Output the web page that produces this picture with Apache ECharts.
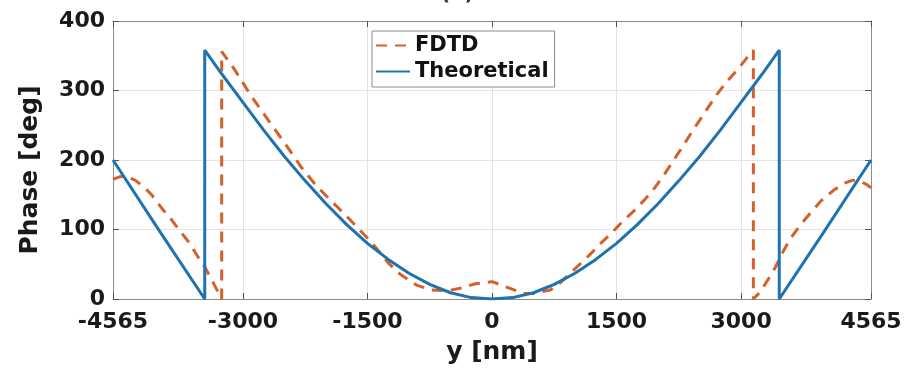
<!DOCTYPE html>
<html>
<head>
<meta charset="utf-8">
<script src="https://cdn.jsdelivr.net/npm/echarts@6/dist/echarts.min.js"></script>
<style>
html,body{margin:0;padding:0;background:#fff;}
#chart{width:908px;height:374px;}
</style>
</head>
<body>
<div id="chart"></div>
<script>
// ---- data ----
const xTicks = [-4565, -3000, -1500, 0, 1500, 3000, 4565];
const yTicks = [0, 100, 200, 300, 400];

const theoX = [-4565, -4000, -3460, -3460, -3250, -3000, -2750, -2500, -2250, -2000, -1750, -1500, -1250, -1000, -750, -500, -250, 0, 250, 500, 750, 1000, 1250, 1500, 1750, 2000, 2250, 2500, 2750, 3000, 3250, 3460, 3460, 4000, 4565];
const theoY = [200, 97, 0, 358, 323, 283, 243, 205, 170, 137, 107, 80, 57, 37, 21, 9, 2, 0, 2, 9, 21, 37, 57, 80, 107, 137, 170, 205, 243, 283, 323, 358, 0, 97, 200];

const fdtdX = [-4565, -4480, -4420, -4300, -4200, -4100, -3960, -3860, -3740, -3640, -3560, -3460, -3360, -3256, -3256, -3100, -2900, -2700, -2500, -2300, -2130, -1970, -1850, -1710, -1590, -1470, -1350, -1250, -1110, -910, -730, -530, -365, -200, 0, 200, 377, 500, 700, 820, 940, 1040, 1180, 1300, 1440, 1560, 1720, 1840, 1960, 2080, 2200, 2300, 2400, 2500, 2600, 2700, 2830, 2970, 3070, 3148, 3148, 3230, 3330, 3410, 3510, 3590, 3710, 3830, 3970, 4110, 4230, 4350, 4420, 4510, 4565];
const fdtdY = [172, 176, 177, 171, 162, 150, 128, 114, 95, 80, 64, 46, 24, 0, 356, 330, 292, 258, 225, 190, 165, 145, 131, 114, 99, 84, 67, 52, 36, 20, 13, 12, 16, 22, 25, 16, 8, 8, 13, 23, 37, 48, 64, 79, 95, 110, 128, 143, 160, 180, 202, 220, 239, 257, 275, 293, 313, 332, 347, 358, 0, 10, 29, 45, 69, 86, 106, 123, 142, 156, 166, 171, 170, 165, 160];

const seriesNames = ['FDTD', 'Theoretical'];
const xName = 'y [nm]';
const yName = 'Phase [deg]';
const panelLabel = '(b)';

// ---- chart ----
const FONT = 'DejaVu Sans';
const chart = echarts.init(document.getElementById('chart'), null, {renderer: 'canvas'});
const pair = (xs, ys) => xs.map((x, i) => [x, ys[i]]);

const axisLineStyle = {color: '#8c8c8c', width: 1};
const tickStyle = {color: '#555', width: 1};
const labelStyle = {fontFamily: FONT, fontWeight: 'bold', fontSize: 22, color: '#1a1a1a', formatter: v => String(v)};

const option = {
  animation: false,
  backgroundColor: '#ffffff',
  title: {
    text: panelLabel, left: 436, top: -20,
    textStyle: {fontFamily: FONT, fontWeight: 'bold', fontSize: 20, color: '#333'}
  },
  grid: {left: 113, right: 37, top: 21, bottom: 75, containLabel: false},
  legend: {
    data: seriesNames,
    orient: 'vertical',
    left: 372, top: 31,
    backgroundColor: '#ffffff',
    borderColor: '#8c8c8c', borderWidth: 1,
    padding: [4, 6, 5, 3],
    itemGap: 5,
    itemWidth: 34, itemHeight: 22,
    itemStyle: {opacity: 0},
    textStyle: {fontFamily: FONT, fontWeight: 'bold', fontSize: 21, color: '#111'}
  },
  xAxis: [{
    type: 'value', min: -4565, max: 4565, position: 'bottom',
    axisLine: {show: true, onZero: false, lineStyle: axisLineStyle},
    axisTick: {show: true, inside: true, length: 6, customValues: xTicks, lineStyle: tickStyle},
    axisLabel: Object.assign({customValues: xTicks, margin: 12}, labelStyle),
    splitLine: {show: true, lineStyle: {color: '#e3e3e3', width: 1}},
    name: xName, nameLocation: 'middle', nameGap: 41,
    nameTextStyle: {fontFamily: FONT, fontWeight: 'bold', fontSize: 25, color: '#1a1a1a'}
  }, {
    type: 'value', min: -4565, max: 4565, position: 'top',
    axisLine: {show: true, onZero: false, lineStyle: axisLineStyle},
    axisTick: {show: true, inside: true, length: 6, customValues: xTicks, lineStyle: tickStyle},
    axisLabel: {show: false},
    splitLine: {show: false}
  }],
  yAxis: [{
    type: 'value', min: 0, max: 400, interval: 100, position: 'left',
    axisLine: {show: true, onZero: false, lineStyle: axisLineStyle},
    axisTick: {show: true, inside: true, length: 6, lineStyle: tickStyle},
    axisLabel: Object.assign({margin: 8}, labelStyle),
    splitLine: {show: true, lineStyle: {color: '#e3e3e3', width: 1}},
    name: yName, nameLocation: 'middle', nameGap: 70, nameRotate: 90,
    nameTextStyle: {fontFamily: FONT, fontWeight: 'bold', fontSize: 25, color: '#1a1a1a', padding: [0, 20, 0, 0]}
  }, {
    type: 'value', min: 0, max: 400, interval: 100, position: 'right',
    axisLine: {show: true, onZero: false, lineStyle: axisLineStyle},
    axisTick: {show: true, inside: true, length: 6, lineStyle: tickStyle},
    axisLabel: {show: false},
    splitLine: {show: false}
  }],
  series: [{
    name: seriesNames[0], type: 'line', xAxisIndex: 0, yAxisIndex: 0,
    data: pair(fdtdX, fdtdY),
    showSymbol: false, symbol: 'none', smooth: false, z: 3,
    lineStyle: {color: '#D4602A', width: 3, type: [11, 8]},
    itemStyle: {color: '#D4602A'}
  }, {
    name: seriesNames[1], type: 'line', xAxisIndex: 0, yAxisIndex: 0,
    data: pair(theoX, theoY),
    showSymbol: false, symbol: 'none', smooth: false, z: 4,
    lineStyle: {color: '#1F72B0', width: 3},
    itemStyle: {color: '#1F72B0'}
  }]
};
chart.setOption(option);
</script>
</body>
</html>
